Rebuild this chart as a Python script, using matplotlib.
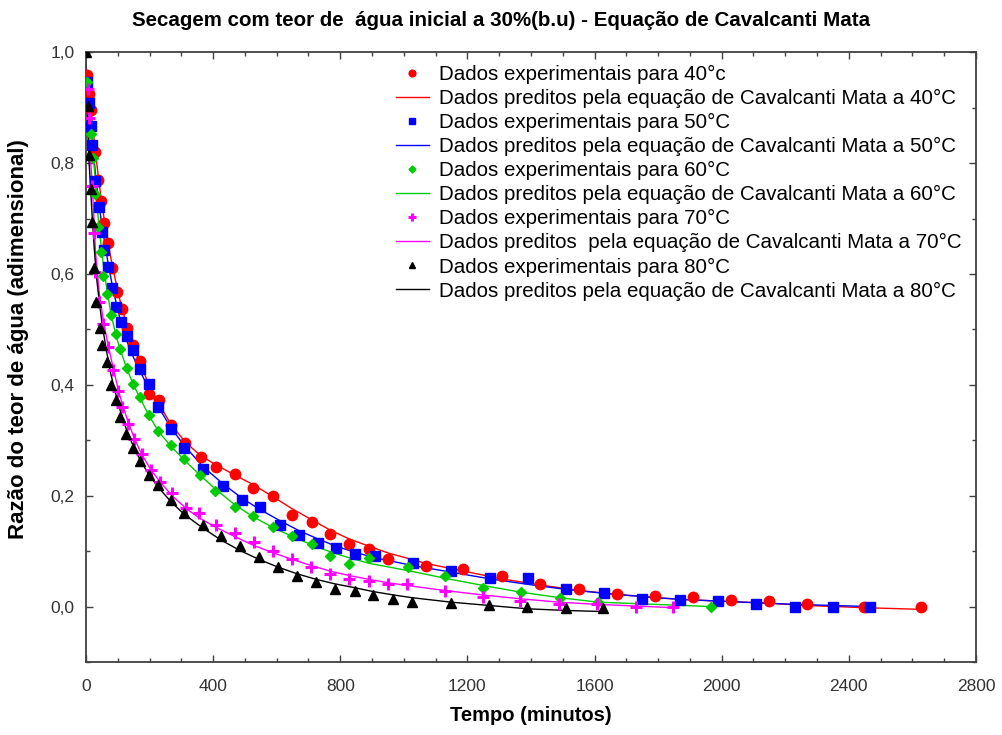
import matplotlib
matplotlib.use("Agg")
import matplotlib.pyplot as plt
from matplotlib.ticker import MultipleLocator, FuncFormatter

plt.rcParams['font.family'] = ['Liberation Sans', 'DejaVu Sans']

# --- 40 °C ---
t40 = [4, 10, 15, 28, 39, 47, 57, 68, 83, 98, 112, 130, 149, 170, 198, 230, 266, 312, 361, 408,
       469, 526, 589, 647, 712, 768, 828, 890, 949, 1069, 1187, 1308, 1428, 1551, 1671, 1790,
       1909, 2028, 2148, 2267, 2449, 2626]
exp40 = [0.958, 0.924, 0.896, 0.820, 0.770, 0.731, 0.692, 0.656, 0.611, 0.567, 0.536, 0.503,
         0.471, 0.443, 0.383, 0.372, 0.328, 0.295, 0.270, 0.251, 0.239, 0.213, 0.199, 0.165,
         0.153, 0.131, 0.113, 0.104, 0.086, 0.073, 0.067, 0.055, 0.040, 0.031, 0.022, 0.019,
         0.017, 0.012, 0.010, 0.005, 0.000, 0.000]
tp40 = [0] + t40
pred40 = [0.98, 0.955, 0.925, 0.90, 0.83, 0.775, 0.74, 0.70, 0.66, 0.615, 0.575, 0.54, 0.505,
          0.47, 0.44, 0.40, 0.365, 0.33, 0.297, 0.272, 0.256, 0.237, 0.22, 0.198, 0.177, 0.156,
          0.138, 0.122, 0.109, 0.097, 0.078, 0.064, 0.050, 0.039, 0.029, 0.022, 0.016, 0.012,
          0.009, 0.006, 0.002, -0.002, -0.005]

# --- 50 °C ---
t50 = [4, 10, 15, 20, 30, 41, 51, 58, 68, 81, 96, 109, 128, 149, 170, 198, 228, 268, 310, 369,
       430, 492, 548, 610, 670, 730, 786, 846, 909, 1028, 1150, 1271, 1391, 1510, 1629, 1750,
       1868, 1987, 2107, 2230, 2349, 2468]
exp50 = [0.946, 0.909, 0.866, 0.832, 0.768, 0.720, 0.676, 0.644, 0.612, 0.574, 0.540, 0.513,
         0.488, 0.462, 0.428, 0.401, 0.360, 0.320, 0.286, 0.249, 0.218, 0.192, 0.180, 0.148,
         0.130, 0.115, 0.106, 0.095, 0.092, 0.078, 0.064, 0.052, 0.051, 0.031, 0.025, 0.014,
         0.012, 0.010, 0.004, 0.000, 0.000, 0.000]
tp50 = [0] + t50
pred50 = [0.98, 0.945, 0.905, 0.87, 0.84, 0.78, 0.725, 0.685, 0.66, 0.625, 0.585, 0.545, 0.515,
          0.48, 0.45, 0.425, 0.393, 0.36, 0.322, 0.29, 0.252, 0.222, 0.195, 0.175, 0.155, 0.137,
          0.122, 0.109, 0.098, 0.088, 0.074, 0.062, 0.050, 0.040, 0.031, 0.024, 0.018, 0.013,
          0.010, 0.007, 0.004, 0.002, 0.000]

# --- 60 °C ---
t60 = [4, 16, 23, 28, 37, 46, 55, 65, 78, 94, 107, 128, 147, 170, 198, 228, 266, 310, 359, 407,
       470, 526, 587, 647, 712, 768, 828, 891, 1012, 1131, 1250, 1368, 1491, 1611, 1966]
exp60 = [0.946, 0.852, 0.810, 0.744, 0.684, 0.639, 0.596, 0.564, 0.526, 0.491, 0.464, 0.430,
         0.401, 0.378, 0.345, 0.316, 0.292, 0.267, 0.237, 0.208, 0.179, 0.163, 0.144, 0.128,
         0.112, 0.092, 0.076, 0.088, 0.071, 0.055, 0.034, 0.026, 0.016, 0.009, 0.000]
tp60 = [0] + t60
pred60 = [0.98, 0.94, 0.86, 0.81, 0.78, 0.71, 0.66, 0.615, 0.575, 0.53, 0.49, 0.465, 0.43,
          0.403, 0.376, 0.345, 0.316, 0.29, 0.264, 0.237, 0.212, 0.183, 0.162, 0.143, 0.127,
          0.111, 0.099, 0.088, 0.078, 0.065, 0.051, 0.038, 0.026, 0.016, 0.008, 0.000]

# --- 70 °C ---
t70 = [5, 10, 20, 25, 30, 42, 55, 70, 86, 100, 114, 133, 151, 175, 204, 233, 271, 315, 356, 409,
       469, 529, 589, 649, 709, 768, 828, 891, 951, 1011, 1129, 1248, 1367, 1488, 1608, 1729, 1847]
exp70 = [0.933, 0.882, 0.759, 0.673, 0.603, 0.550, 0.510, 0.468, 0.426, 0.388, 0.360, 0.330,
         0.303, 0.276, 0.247, 0.225, 0.204, 0.178, 0.168, 0.147, 0.133, 0.117, 0.100, 0.086,
         0.072, 0.059, 0.050, 0.047, 0.041, 0.040, 0.028, 0.017, 0.010, 0.005, 0.004, 0.000, 0.000]
tp70 = [0] + t70
pred70 = [0.98, 0.90, 0.84, 0.76, 0.70, 0.64, 0.565, 0.515, 0.47, 0.43, 0.395, 0.365, 0.333,
          0.305, 0.275, 0.247, 0.225, 0.2, 0.177, 0.16, 0.143, 0.126, 0.11, 0.097, 0.085, 0.074,
          0.064, 0.056, 0.049, 0.043, 0.038, 0.029, 0.021, 0.014, 0.008, 0.004, 0.001, -0.002]

# --- 80 °C ---
t80 = [0, 5, 10, 15, 20, 25, 33, 44, 52, 65, 78, 93, 107, 126, 147, 170, 198, 228, 266, 308,
       367, 425, 485, 545, 605, 665, 725, 783, 846, 904, 967, 1026, 1148, 1268, 1389, 1509, 1627]
exp80 = [1.0, 0.903, 0.815, 0.753, 0.694, 0.610, 0.550, 0.503, 0.471, 0.441, 0.400, 0.372,
         0.342, 0.312, 0.286, 0.263, 0.238, 0.219, 0.193, 0.169, 0.148, 0.128, 0.110, 0.090,
         0.072, 0.056, 0.044, 0.031, 0.028, 0.020, 0.013, 0.008, 0.007, 0.003, 0.000, -0.002, -0.002]
pred80 = [0.98, 0.87, 0.80, 0.75, 0.70, 0.655, 0.595, 0.54, 0.505, 0.46, 0.42, 0.385, 0.355,
          0.322, 0.292, 0.265, 0.238, 0.215, 0.19, 0.167, 0.142, 0.12, 0.101, 0.085, 0.071,
          0.059, 0.049, 0.041, 0.034, 0.027, 0.021, 0.016, 0.008, 0.002, -0.004, -0.007, -0.009]

series = [
    (t40, exp40, tp40, pred40, '#ff0000', 'o', 7.5, "Dados experimentais para 40°c",
     "Dados preditos pela equação de Cavalcanti Mata a 40°C"),
    (t50, exp50, tp50, pred50, '#0000ff', 's', 7, "Dados experimentais para 50°C",
     "Dados preditos pela equação de Cavalcanti Mata a 50°C"),
    (t60, exp60, tp60, pred60, '#00cc00', 'D', 5.5, "Dados experimentais para 60°C",
     "Dados preditos pela equação de Cavalcanti Mata a 60°C"),
    (t70, exp70, tp70, pred70, '#ff00ff', '+', 9, "Dados experimentais para 70°C",
     "Dados preditos  pela equação de Cavalcanti Mata a 70°C"),
    (t80, exp80, t80, pred80, '#000000', '^', 7.5, "Dados experimentais para 80°C",
     "Dados preditos pela equação de Cavalcanti Mata a 80°C"),
]

fig = plt.figure(figsize=(10.03, 7.35), dpi=100)
ax = fig.add_axes([0.0857, 0.0993, 0.8873, 0.8297])

for t, e, tp, p, c, m, ms, lab_e, lab_p in series:
    ax.plot(t, e, linestyle='none', marker=m, color=c, markersize=ms,
            markeredgewidth=2.2 if m == '+' else 1, label=lab_e, zorder=3)
    ax.plot(tp, p, color=c, linewidth=1.0, label=lab_p, zorder=2)

ax.set_xlim(0, 2800)
ax.set_ylim(-0.1, 1.0)
ax.xaxis.set_major_locator(MultipleLocator(400))
ax.xaxis.set_minor_locator(MultipleLocator(100))
ax.yaxis.set_major_locator(MultipleLocator(0.2))
ax.yaxis.set_minor_locator(MultipleLocator(0.1))
ax.yaxis.set_major_formatter(FuncFormatter(lambda v, pos: f"{v:.1f}".replace('.', ',')))

ax.tick_params(which='both', direction='in', top=True, right=True, colors='#404040',
               labelsize=12.5, labelcolor='#333333')
ax.tick_params(which='major', length=5, width=1)
ax.tick_params(which='minor', length=3, width=1)
ax.tick_params(axis='x', pad=12)
ax.tick_params(axis='y', pad=8)
for s in ax.spines.values():
    s.set_color('#404040')
    s.set_linewidth(1.3)

ax.set_xlabel("Tempo (minutos)", fontsize=14.5, fontweight='bold', labelpad=9)
ax.set_ylabel("Razão do teor de água (adimensional)", fontsize=16, fontweight='bold')
ax.yaxis.set_label_coords(-0.064, 0.53)
fig.suptitle("Secagem com teor de  água inicial a 30%(b.u) - Equação de Cavalcanti Mata",
             fontsize=14.8, fontweight='bold', x=0.5, y=0.985)

ax.legend(loc='upper right', bbox_to_anchor=(1.0, 1.003), frameon=False, fontsize=14.8,
          labelspacing=0.245, handlelength=1.6, handletextpad=0.5, borderpad=0.2,
          markerscale=0.65)

fig.savefig("out.png", dpi=100)
